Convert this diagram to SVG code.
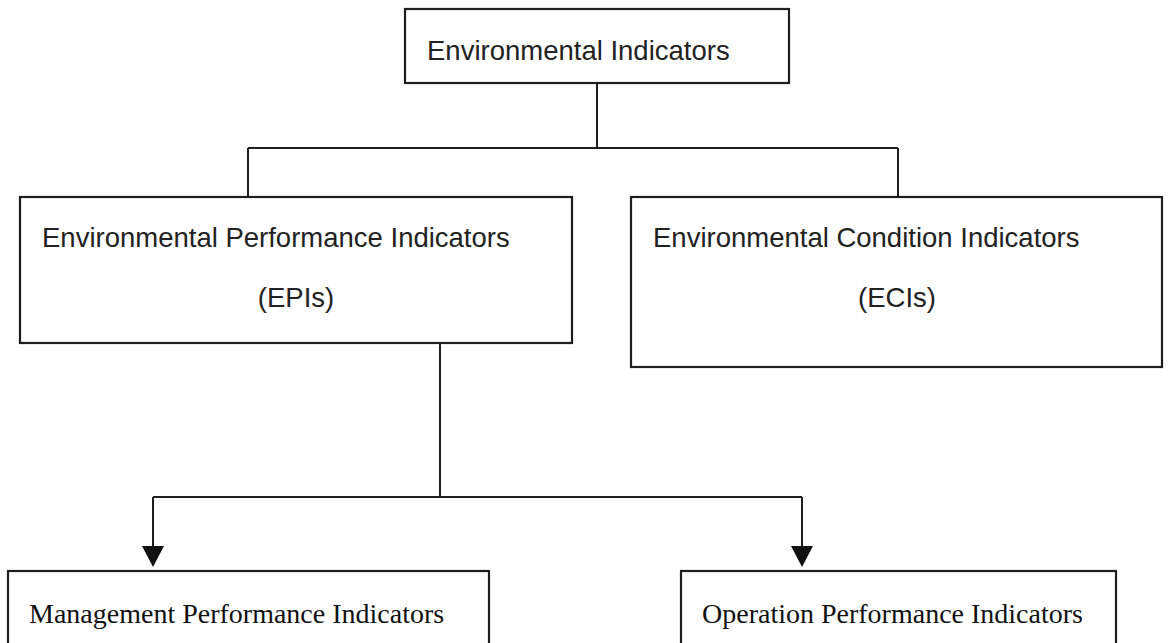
<svg xmlns="http://www.w3.org/2000/svg" width="1169" height="643" viewBox="0 0 1169 643">
  <defs>
    <style>
      .box { fill: #ffffff; stroke: #1e1e1e; stroke-width: 2.2; }
      .sans { font-family: "Liberation Sans", Arial, sans-serif; font-size: 27.5px; fill: #222222; }
      .serif { font-family: "Liberation Serif", "Times New Roman", serif; font-size: 28px; fill: #111111; }
      .conn { fill: none; stroke: #1e1e1e; stroke-width: 2; }
      .head { fill: #111111; stroke: none; }
    </style>
  </defs>
  <rect width="1169" height="643" fill="#ffffff"/>

  <g id="connectors">
    <path class="conn" d="M597 83 V148 M248 148 H898 M248 148 V197 M898 148 V197"/>
    <path class="conn" d="M440 343 V497 M153 497 H802 M153 497 V549 M802 497 V549"/>
    <polygon class="head" points="142,546 164,546 153,567"/>
    <polygon class="head" points="791,546 813,546 802,567"/>
  </g>

  <g id="node-environmental-indicators">
    <rect class="box" x="405" y="9" width="384" height="74"/>
    <text class="sans" x="427" y="60">Environmental Indicators</text>
  </g>

  <g id="node-epis">
    <rect class="box" x="20" y="197" width="552" height="146"/>
    <text class="sans" x="42" y="247">Environmental Performance Indicators</text>
    <text class="sans" x="296" y="307" text-anchor="middle">(EPIs)</text>
  </g>

  <g id="node-ecis">
    <rect class="box" x="631" y="197" width="531" height="170"/>
    <text class="sans" x="653" y="247">Environmental Condition Indicators</text>
    <text class="sans" x="897" y="307" text-anchor="middle">(ECIs)</text>
  </g>

  <g id="node-management">
    <rect class="box" x="8" y="571" width="481" height="90"/>
    <text class="serif" x="29" y="623">Management Performance Indicators</text>
  </g>

  <g id="node-operation">
    <rect class="box" x="681" y="571" width="435" height="90"/>
    <text class="serif" x="702" y="623">Operation Performance Indicators</text>
  </g>
</svg>
